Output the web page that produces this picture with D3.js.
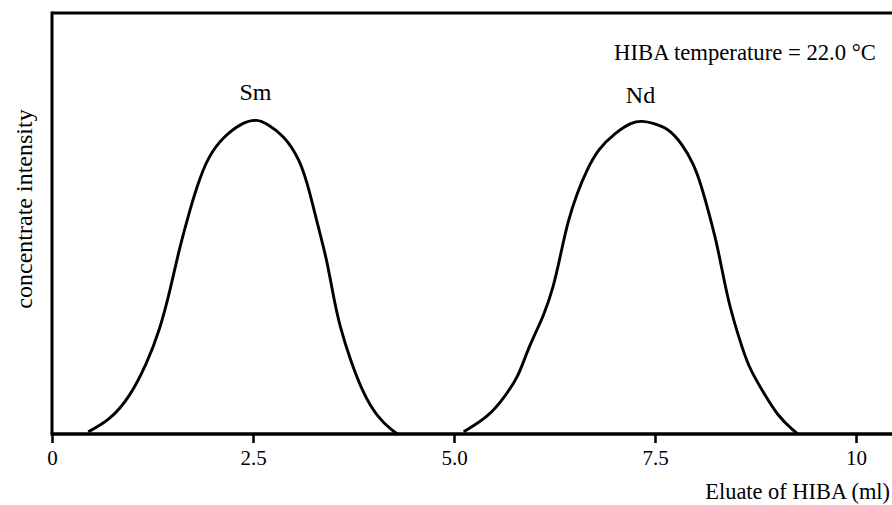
<!DOCTYPE html>
<html>
<head>
<meta charset="utf-8">
<script src="https://cdn.jsdelivr.net/npm/d3@7"></script>
<style>
  body { margin: 0; background: #fff; }
  svg text { font-family: "Liberation Serif", "Tinos", "Times New Roman", "Times", "DejaVu Serif", serif; fill: #000; }
</style>
</head>
<body>
<div id="chart"></div>
<script>
// Elution curves.
// x: eluate volume (ml), y: relative concentrate intensity (peak ~ 100)
const smX = [0.45, 0.72, 0.97, 1.18, 1.34, 1.47, 1.57, 1.68, 1.80, 1.94, 2.13, 2.38, 2.55,
             2.67, 2.88, 3.09, 3.21, 3.31, 3.42, 3.50, 3.58, 3.71, 3.87, 4.04, 4.25, 4.30];
const smY = [0.7, 4.4, 11.8, 22.4, 33.0, 45.7, 57.4, 67.9, 78.5, 88.0, 94.4, 99.1, 99.9,
             98.6, 94.9, 87.0, 76.4, 65.8, 55.2, 43.6, 34.1, 23.5, 12.9, 5.5, 0.7, 0.0];

const ndX = [5.12, 5.43, 5.63, 5.80, 5.90, 6.01, 6.11, 6.24, 6.32, 6.42, 6.53, 6.65, 6.80,
             7.00, 7.21, 7.35, 7.46, 7.67, 7.83, 7.98, 8.08, 8.16, 8.27, 8.35, 8.43, 8.54,
             8.66, 8.83, 9.03, 9.24, 9.28];
const ndY = [0.7, 5.5, 11.8, 18.2, 25.6, 32.0, 37.2, 46.8, 56.3, 67.9, 76.4, 83.8, 90.7,
             95.5, 99.1, 99.4, 98.8, 97.0, 92.3, 85.9, 78.5, 71.1, 60.5, 49.9, 40.4, 30.9,
             21.4, 14.0, 5.5, 0.7, 0.0];

const tickVals = [0, 2.5, 5, 7.5, 10];
const tickLabels = ["0", "2.5", "5.0", "7.5", "10"];

// Peak labels
const peakNames = ["Sm", "Nd"];
const peakPos = [2.53, 7.32];

const width = 892, height = 505;
const svg = d3.select("#chart").append("svg")
    .attr("width", width)
    .attr("height", height);

// scales: 0 -> 52px, 10 -> 856px ; intensity 0 at axis, peak at ~119px
const x = d3.scaleLinear().domain([0, 10]).range([52, 856]);
const y = d3.scaleLinear().domain([0, 100]).range([434, 119]);
const yTop = 13;

// frame: top edge runs off the right side of the picture
svg.append("line")
    .attr("x1", x(0)).attr("x2", width + 10)
    .attr("y1", yTop).attr("y2", yTop)
    .attr("stroke", "#000").attr("stroke-width", 3);
svg.append("line")
    .attr("x1", x(0)).attr("x2", x(0))
    .attr("y1", yTop - 1.5).attr("y2", y(0))
    .attr("stroke", "#000").attr("stroke-width", 3);

// bottom axis
const xAxis = d3.axisBottom(x)
    .tickValues(tickVals)
    .tickFormat((d, i) => tickLabels[i])
    .tickSize(9)
    .tickPadding(7);

const gx = svg.append("g")
    .attr("transform", `translate(0,${y(0)})`)
    .call(xAxis);
gx.attr("font-family", null).attr("font-size", null);
gx.select(".domain").remove();
gx.selectAll(".tick line").attr("stroke", "#000").attr("stroke-width", 2.5);
gx.selectAll(".tick text").style("font-size", "21px");
svg.append("line")
    .attr("x1", x(0) - 1.5).attr("x2", width + 10)
    .attr("y1", y(0)).attr("y2", y(0))
    .attr("stroke", "#000").attr("stroke-width", 3.5);

// curves
const line = d3.line()
    .x(d => x(d[0]))
    .y(d => y(d[1]))
    .curve(d3.curveBasis);

const series = [d3.zip(smX, smY), d3.zip(ndX, ndY)];
svg.selectAll("path.curve")
    .data(series)
    .join("path")
    .attr("class", "curve")
    .attr("d", line)
    .attr("fill", "none")
    .attr("stroke", "#000")
    .attr("stroke-width", 2.9)
    .attr("stroke-linejoin", "round");

// peak labels
svg.selectAll("text.peak")
    .data(peakNames)
    .join("text")
    .attr("class", "peak")
    .attr("x", (d, i) => x(peakPos[i]))
    .attr("y", (d, i) => i === 0 ? 100 : 103)
    .attr("text-anchor", "middle")
    .style("font-size", "24px")
    .text(d => d);

svg.append("text")
    .attr("x", 876).attr("y", 60)
    .attr("text-anchor", "end")
    .style("font-size", "22.7px")
    .text("HIBA temperature = 22.0 °C");

// axis titles
svg.append("text")
    .attr("x", 890).attr("y", 499)
    .attr("text-anchor", "end")
    .style("font-size", "22.4px")
    .text("Eluate of HIBA (ml)");

svg.append("text")
    .attr("transform", "translate(32,209) rotate(-90)")
    .attr("text-anchor", "middle")
    .style("font-size", "24px")
    .text("concentrate intensity");
</script>
</body>
</html>
